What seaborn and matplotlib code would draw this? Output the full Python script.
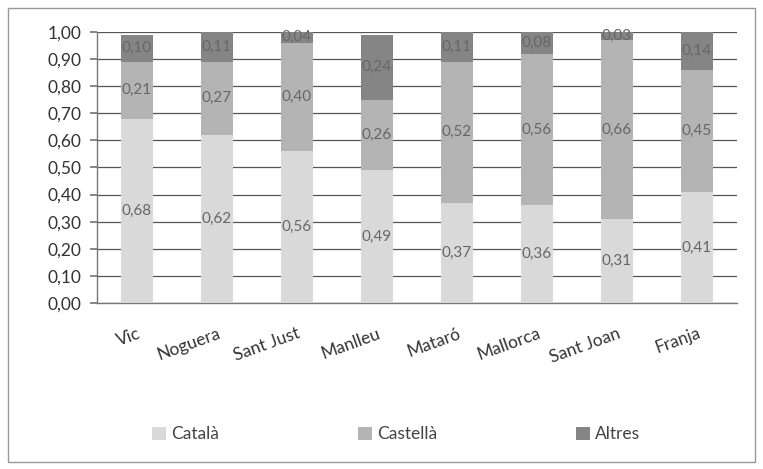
import matplotlib
matplotlib.use("Agg")
import matplotlib.pyplot as plt
import seaborn as sns
import pandas as pd
import numpy as np
from matplotlib.patches import Rectangle
from matplotlib.transforms import ScaledTranslation

categories = ["Vic", "Noguera", "Sant Just", "Manlleu", "Mataró", "Mallorca", "Sant Joan", "Franja"]
catala = [0.68, 0.62, 0.56, 0.49, 0.37, 0.36, 0.31, 0.41]
castella = [0.21, 0.27, 0.40, 0.26, 0.52, 0.56, 0.66, 0.45]
altres = [0.10, 0.11, 0.04, 0.24, 0.11, 0.08, 0.03, 0.14]
series_names = ["Català", "Castellà", "Altres"]
yticks = [0.0, 0.1, 0.2, 0.3, 0.4, 0.5, 0.6, 0.7, 0.8, 0.9, 1.0]

sns.set_theme(style="white")
plt.rcParams['font.family'] = ['Lato', 'DejaVu Sans']

df = pd.DataFrame({"cat": categories, "Català": catala, "Castellà": castella, "Altres": altres})
colors = ["#d9d9d9", "#b4b4b4", "#858585"]

fig = plt.figure(figsize=(7.63, 4.69), dpi=100)
ax = fig.add_axes([0.127, 0.354, 0.839, 0.578])

bottom = np.zeros(len(categories))
for name, col in zip(series_names, colors):
    vals = df[name].to_numpy()
    sns.barplot(data=df, x="cat", y=name, color=col, bottom=bottom, width=0.4,
                ax=ax, saturation=1, edgecolor="none", label=name, zorder=3)
    for i, v in enumerate(vals):
        ax.text(i, bottom[i] + v / 2, f"{v:.2f}".replace(".", ","), ha="center", va="center",
                fontsize=11, color="#666666", zorder=4)
    bottom = bottom + vals

ax.set_ylim(0, 1.0)
ax.set_xlim(-0.5, len(categories) - 0.5)
ax.set_yticks(yticks)
ax.set_yticklabels([f"{t:.2f}".replace(".", ",") for t in yticks], fontsize=12.5, color="#333333")
ax.yaxis.grid(True, color="#555555", linewidth=0.9, zorder=1)
ax.set_axisbelow(True)
ax.set_xlabel("")
ax.set_ylabel("")
ax.set_xticks(range(len(categories)))
ax.set_xticklabels(categories, rotation=20, fontsize=12.5, color="#333333",
                   ha="right", rotation_mode="anchor")
offset = ScaledTranslation(5 / 100, 0, fig.dpi_scale_trans)
for lbl in ax.get_xticklabels():
    lbl.set_transform(lbl.get_transform() + offset)
ax.set_xticks(np.arange(-0.5, len(categories)), minor=True)
ax.tick_params(axis="x", which="major", length=0, pad=16)
ax.tick_params(axis="x", which="minor", length=5, color="#777777", direction="out")
ax.tick_params(axis="y", length=5, color="#777777", direction="out", left=True, pad=6)
for s in ["top", "right"]:
    ax.spines[s].set_visible(False)
for s in ["left", "bottom"]:
    ax.spines[s].set_color("#777777")
    ax.spines[s].set_linewidth(1)

leg = ax.legend(loc="center", bbox_to_anchor=(0.467, -0.485), ncol=3, frameon=False,
                fontsize=12.5, handlelength=0.8, handleheight=0.8, columnspacing=8.0,
                handletextpad=0.3)
for t in leg.get_texts():
    t.set_color("#444444")

fig.patches.append(Rectangle((0.011, 0.015), 0.978, 0.968, transform=fig.transFigure,
                             fill=False, edgecolor="#999999", linewidth=1))

fig.savefig("out.png", dpi=100)
